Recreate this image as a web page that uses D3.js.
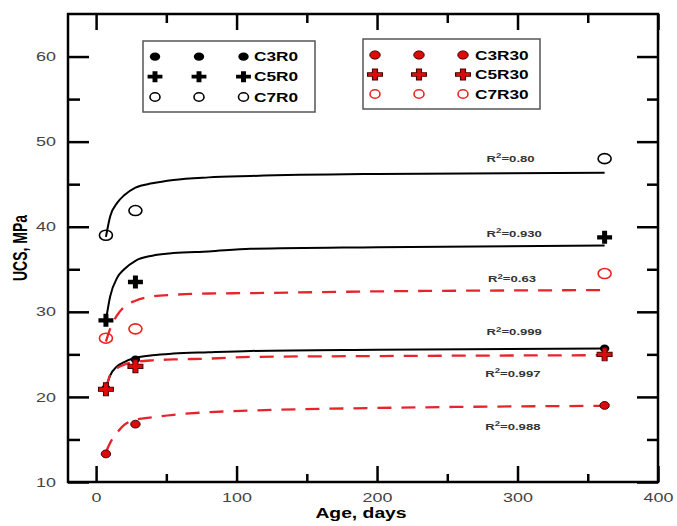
<!DOCTYPE html>
<html>
<head>
<meta charset="utf-8">
<script src="https://cdn.jsdelivr.net/npm/d3@7"></script>
<style>
  body { margin: 0; background: #fff; }
  text { font-family: Arial, "Liberation Sans", sans-serif; }
</style>
</head>
<body>
<svg id="chart"></svg>
<script>
// measured days and UCS values (MPa)
const days = [7, 28, 362];
const c3r0 = [21.0, 24.4, 25.7];
const c5r0 = [29.0, 33.5, 38.75];
const c7r0 = [39.0, 41.9, 48.0];
const c3r30 = [13.3, 16.8, 19.0];
const c5r30 = [20.9, 23.6, 25.0];
const c7r30 = [26.9, 28.0, 34.5];

// fitted curves
const fitDays = [7, 10, 15, 20, 28, 40, 55, 80, 110, 200, 362];
const fitC3R0 = [21.0, 22.5, 23.6, 24.1, 24.6, 24.9, 25.1, 25.25, 25.4, 25.55, 25.7];
const fitC5R0 = [29.0, 31.8, 34.0, 35.0, 36.0, 36.6, 36.9, 37.1, 37.4, 37.6, 37.8];
const fitC7R0 = [38.8, 41.2, 42.8, 43.7, 44.6, 45.1, 45.5, 45.8, 45.96, 46.2, 46.35];
const fitC3R30 = [13.5, 14.6, 15.8, 16.7, 17.3, 17.6, 17.9, 18.2, 18.4, 18.7, 18.95];
const fitC5R30 = [21.0, 22.6, 23.4, 23.8, 24.1, 24.3, 24.4, 24.5, 24.7, 24.8, 24.9];
const fitC7R30 = [26.5, 28.0, 29.6, 30.6, 31.3, 31.8, 32.0, 32.15, 32.2, 32.4, 32.55];

// R² annotations (anchored at day / UCS)
const r2Text = ["0.80", "0.930", "0.63", "0.999", "0.997", "0.988"];
const r2Day = [278, 278, 279, 278, 277, 277];
const r2Ucs = [47.65, 38.8, 33.5, 27.25, 22.35, 16.15];

const legendLeft = ["C3R0", "C5R0", "C7R0"];
const legendRight = ["C3R30", "C5R30", "C7R30"];

const xMajor = [0, 100, 200, 300, 400];
const xMinor = [50, 150, 250, 350];
const yMajor = [10, 20, 30, 40, 50, 60];
const yMinor = [15, 25, 35, 45, 55];

const width = 677, height = 526;
const SX = 1.38; // the source picture is stretched sideways
const RED = "#e8232a";

const series = [
  { name: "C3R0", vals: c3r0, fit: fitC3R0, shape: "dot", color: "#000" },
  { name: "C5R0", vals: c5r0, fit: fitC5R0, shape: "plus", color: "#000" },
  { name: "C7R0", vals: c7r0, fit: fitC7R0, shape: "ring", color: "#000" },
  { name: "C3R30", vals: c3r30, fit: fitC3R30, shape: "dot", color: "#dd0a0a", edge: "#4a0000", dash: true },
  { name: "C5R30", vals: c5r30, fit: fitC5R30, shape: "plus", color: "#dd0a0a", edge: "#4a0000", dash: true },
  { name: "C7R30", vals: c7r30, fit: fitC7R30, shape: "ring", color: "#f02020", dash: true }
];

const svg = d3.select("#chart").attr("width", width).attr("height", height);

const x = d3.scaleLinear().domain([-20, 400]).range([68, 658]);
const y = d3.scaleLinear().domain([10, 65]).range([482, 14]);

function styleAxis(g) {
  g.select(".domain").remove();
  g.selectAll("line").attr("stroke", "#000").attr("stroke-width", 2.5);
  g.attr("font-family", null);
}

// left axis
svg.append("g")
  .attr("transform", "translate(68,0)")
  .call(d3.axisLeft(y).tickValues(yMajor).tickSize(-21).tickPadding(12))
  .call(styleAxis)
  .call((g) => g.selectAll("text")
    .attr("x", -12 / SX)
    .attr("transform", `scale(${SX},1)`)
    .attr("font-size", 13)
    .attr("fill", "#444"));
svg.append("g")
  .attr("transform", "translate(68,0)")
  .call(d3.axisLeft(y).tickValues(yMinor).tickSize(-12).tickFormat(""))
  .call(styleAxis);

// right axis
svg.append("g")
  .attr("transform", "translate(658,0)")
  .call(d3.axisRight(y).tickValues(yMajor).tickSize(-21).tickFormat(""))
  .call(styleAxis);
svg.append("g")
  .attr("transform", "translate(658,0)")
  .call(d3.axisRight(y).tickValues(yMinor).tickSize(-11).tickFormat(""))
  .call(styleAxis);

// bottom axis
svg.append("g")
  .attr("transform", "translate(0,482)")
  .call(d3.axisBottom(x).tickValues(xMajor).tickSize(-16).tickPadding(11))
  .call(styleAxis)
  .call((g) => g.selectAll("text")
    .attr("transform", `scale(${SX},1)`)
    .attr("font-size", 13)
    .attr("fill", "#444"));
svg.append("g")
  .attr("transform", "translate(0,482)")
  .call(d3.axisBottom(x).tickValues(xMinor).tickSize(-8).tickFormat(""))
  .call(styleAxis);

// top axis
svg.append("g")
  .attr("transform", "translate(0,14)")
  .call(d3.axisTop(x).tickValues(xMajor).tickSize(-16).tickFormat(""))
  .call(styleAxis);
svg.append("g")
  .attr("transform", "translate(0,14)")
  .call(d3.axisTop(x).tickValues(xMinor).tickSize(-9).tickFormat(""))
  .call(styleAxis);

// frame
svg.append("rect")
  .attr("x", 68).attr("y", 14)
  .attr("width", 590).attr("height", 468)
  .attr("fill", "none")
  .attr("stroke", "#000")
  .attr("stroke-width", 2.5);

// axis titles
svg.append("text")
  .attr("transform", `translate(361,518) scale(${SX},1)`)
  .attr("text-anchor", "middle")
  .attr("font-size", 14)
  .attr("font-weight", "bold")
  .text("Age, days");

svg.append("text")
  .attr("transform", `translate(27,248) scale(${SX},1) rotate(-90)`)
  .attr("text-anchor", "middle")
  .attr("font-size", 14)
  .attr("font-weight", "bold")
  .text("UCS, MPa");

// fitted curves
const line = d3.line()
  .x((d) => x(d[0]))
  .y((d) => y(d[1]))
  .curve(d3.curveMonotoneX);

series.forEach((s) => {
  svg.append("path")
    .datum(fitDays.map((d, i) => [d, s.fit[i]]))
    .attr("d", line)
    .attr("fill", "none")
    .attr("stroke", s.dash ? RED : "#000")
    .attr("stroke-width", s.dash ? 2.3 : 2)
    .attr("stroke-dasharray", s.dash ? "14,10" : null);
});

// marker drawing
function marker(g, s, cx, cy, small) {
  if (s.shape === "dot") {
    g.append("ellipse")
      .attr("cx", cx).attr("cy", cy)
      .attr("rx", small ? 5.2 : 4.7).attr("ry", small ? 4.1 : 3.9)
      .attr("fill", s.color)
      .attr("stroke", s.edge || "none")
      .attr("stroke-width", 1);
  } else if (s.shape === "ring") {
    g.append("ellipse")
      .attr("cx", cx).attr("cy", cy)
      .attr("rx", small ? 5 : 6.5).attr("ry", small ? 4.2 : 5)
      .attr("fill", "none")
      .attr("stroke", s.color)
      .attr("stroke-width", 1.6);
  } else {
    const w = small ? 11 : 13;
    const sx = small ? 1.35 : 1.15;
    g.append("path")
      .attr("d", d3.symbol(d3.symbolCross, 5 * (w / 3) * (w / 3))())
      .attr("transform", `translate(${cx},${cy}) scale(${sx},1)`)
      .attr("fill", s.color)
      .attr("stroke", s.edge || "none")
      .attr("stroke-width", 0.9);
  }
}

const pts = svg.append("g");
series.forEach((s) => {
  s.vals.forEach((v, i) => marker(pts, s, x(days[i]), y(v), false));
});

// R² labels
r2Text.forEach((t, i) => {
  const lbl = svg.append("text")
    .attr("transform", `translate(${x(r2Day[i])},${y(r2Ucs[i])}) scale(${SX},1)`)
    .attr("font-size", 9.5)
    .attr("font-weight", "bold")
    .attr("fill", "#333");
  lbl.append("tspan").text("R");
  lbl.append("tspan").attr("font-size", 7).attr("dy", -3.5).text("2");
  lbl.append("tspan").attr("dy", 3.5).text("=" + t);
});

// legends
function legend(names, box, cols, rows, textX) {
  const g = svg.append("g");
  g.append("rect")
    .attr("x", box[0]).attr("y", box[1])
    .attr("width", box[2]).attr("height", box[3])
    .attr("fill", "#fff")
    .attr("stroke", "#555")
    .attr("stroke-width", 1.5);
  names.forEach((n, i) => {
    const s = series.find((d) => d.name === n);
    cols.forEach((cx) => marker(g, s, cx, rows[i], true));
    g.append("text")
      .attr("transform", `translate(${textX},${rows[i] + 4.5}) scale(${SX},1)`)
      .attr("font-size", 12.5)
      .attr("font-weight", "bold")
      .text(n);
  });
}

legend(legendLeft, [143, 41, 172, 71], [155, 199, 243.5], [56.7, 76.7, 97], 254);
legend(legendRight, [363, 39, 177, 70], [375, 419, 463], [55, 74.5, 94], 475);
</script>
</body>
</html>
